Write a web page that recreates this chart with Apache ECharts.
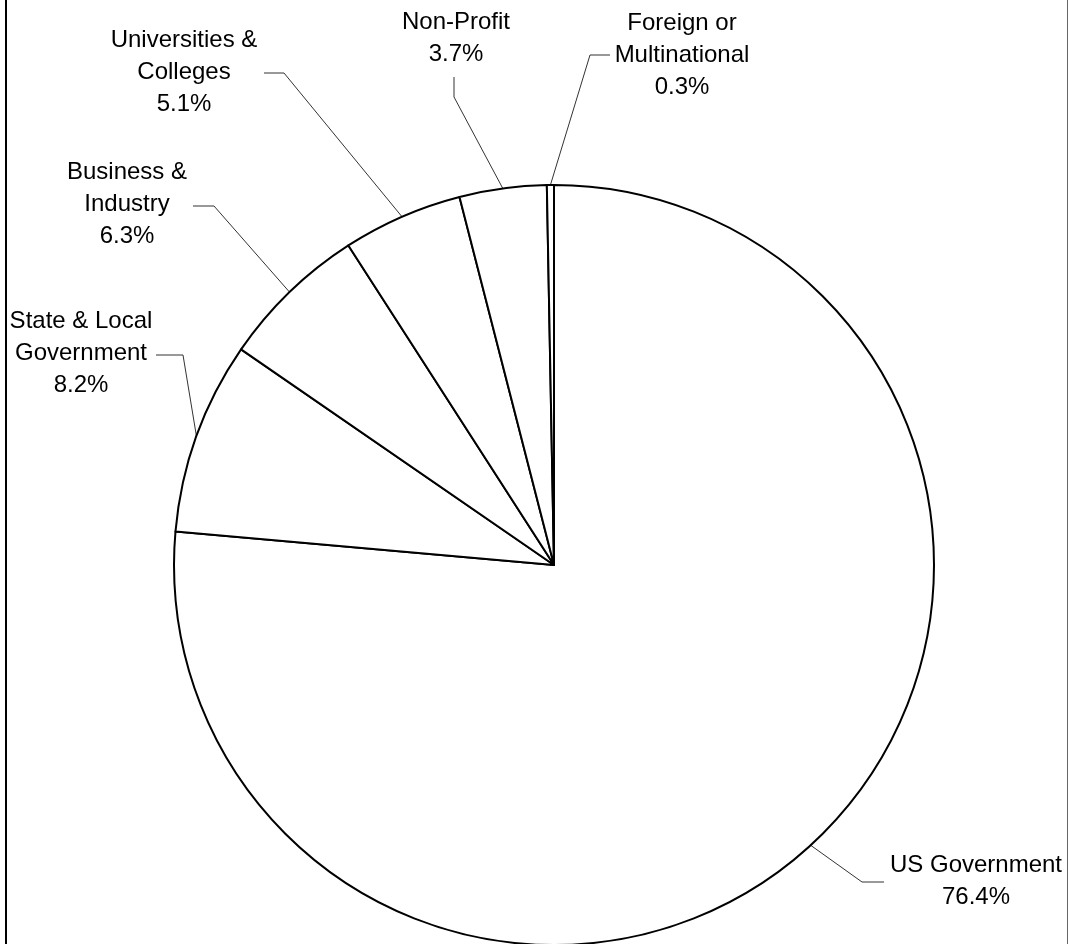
<!DOCTYPE html>
<html>
<head>
<meta charset="utf-8">
<script src="https://cdn.jsdelivr.net/npm/echarts@6/dist/echarts.min.js"></script>
<style>
html,body{margin:0;padding:0;background:#fff;}
#chart{width:1068px;height:944px;}
</style>
</head>
<body>
<div id="chart"></div>
<script>
// Data (percent of total)
var categories = ['US Government', 'State & Local\nGovernment', 'Business &\nIndustry', 'Universities &\nColleges', 'Non-Profit', 'Foreign or\nMultinational'];
var values = [76.4, 8.2, 6.3, 5.1, 3.7, 0.3];

// Layout (label centres and leader-line elbows/ends), not data
var CX = 554, CY = 565, R = 380;
var labelPos = [
  {x: 976, y: 881, elbow: [862, 882], end: [884, 882]},
  {x: 81,  y: 353, elbow: [183, 355], end: [156, 355]},
  {x: 127, y: 204, elbow: [214, 206], end: [193, 206]},
  {x: 184, y: 72,  elbow: [284, 73],  end: [264, 73]},
  {x: 456, y: 38,  elbow: [454, 97],  end: [454, 77]},
  {x: 682, y: 55,  elbow: [590, 55],  end: [610, 55]}
];

var total = values.reduce(function(a, b){ return a + b; }, 0);
function edgePoint(i) {
  var before = 0;
  for (var k = 0; k < i; k++) before += values[k];
  var mid = (before + values[i] / 2) / total * 2 * Math.PI;
  return [CX + R * Math.sin(mid), CY - R * Math.cos(mid)];
}

var chart = echarts.init(document.getElementById('chart'));
chart.setOption({
  animation: false,
  backgroundColor: '#fff',
  graphic: [
    {type: 'line', shape: {x1: 6, y1: 0, x2: 6, y2: 944}, style: {stroke: '#000', lineWidth: 2}, silent: true},
    {type: 'line', shape: {x1: 1067.5, y1: 0, x2: 1067.5, y2: 944}, style: {stroke: '#666', lineWidth: 1}, silent: true}
  ],
  series: [{
    type: 'pie',
    center: [CX, CY],
    radius: [0, R],
    startAngle: 90,
    clockwise: true,
    silent: true,
    avoidLabelOverlap: false,
    emphasis: {disabled: true, scale: false},
    itemStyle: {color: '#fff', borderColor: '#000', borderWidth: 2},
    label: {
      show: true,
      position: 'outside',
      color: '#000',
      fontFamily: 'Liberation Sans, Arial, sans-serif',
      fontSize: 24,
      lineHeight: 32,
      align: 'center',
      formatter: function(p){ return p.name + '\n' + p.value.toFixed(1) + '%'; }
    },
    labelLine: {show: true, length: 20, length2: 20, lineStyle: {color: '#333', width: 1}},
    labelLayout: function(params) {
      var i = params.dataIndex;
      var lp = labelPos[i];
      return {
        x: lp.x,
        y: lp.y,
        align: 'center',
        verticalAlign: 'middle',
        labelLinePoints: [edgePoint(i), lp.elbow, lp.end]
      };
    },
    data: categories.map(function(c, i){ return {name: c, value: values[i]}; })
  }]
});
</script>
</body>
</html>
